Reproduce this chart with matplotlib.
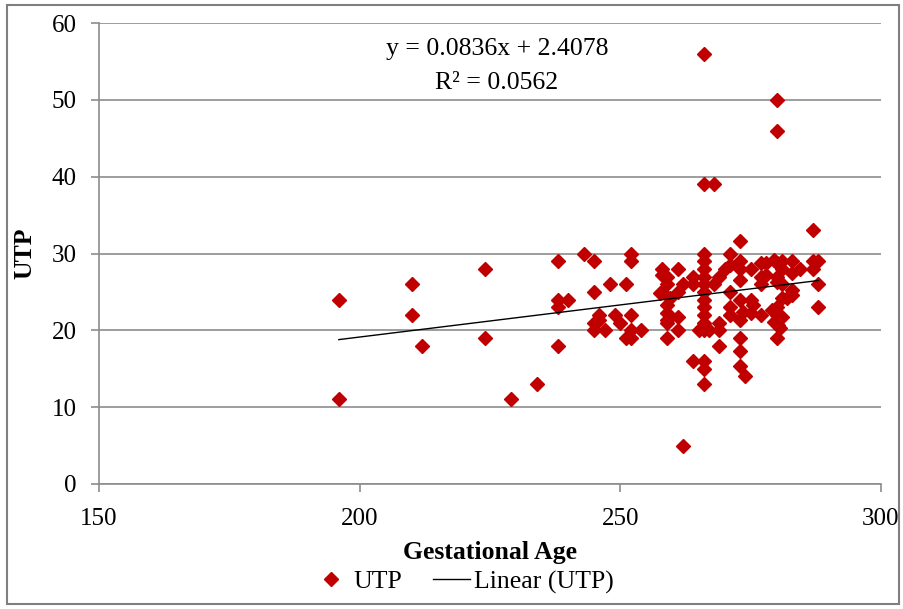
import matplotlib
matplotlib.use("Agg")
import matplotlib.pyplot as plt
from matplotlib.patches import Rectangle
from matplotlib.lines import Line2D

gest_age = [196, 196, 210, 210, 212, 224, 224, 229, 234,
            238, 238, 238, 238, 240, 243, 245, 245,
            245, 245, 246, 246, 247, 248, 249, 250, 251, 251, 252, 252, 252, 252, 252, 254,
            258, 258, 259, 258, 257.6, 259.5, 259, 259, 259, 259, 259, 259,
            261, 262, 261, 261, 261, 264, 264, 262,
            264, 266, 266, 266,
            266, 266, 266, 266, 266, 266, 266, 266, 266, 266, 266, 265, 267, 266, 268, 266,
            268, 269, 269, 269, 269, 270, 271, 271, 271, 271, 271,
            273, 273, 273, 273, 273, 273.6, 273, 273, 273, 273, 274,
            275, 275, 275.5, 275, 277,
            277, 278, 280, 277, 278, 277,
            279.4, 281, 283, 284.5, 283, 281, 280, 280, 281,
            283, 283, 282, 281, 280, 279,
            280, 281, 279.4, 280.3, 280.7, 280,
            280, 280,
            287, 287, 288, 287, 288, 288]
utp = [24, 11, 26, 22, 18, 28, 19, 11, 13,
       29, 24, 23, 18, 24, 30, 29, 25,
       20, 21, 22, 21.3, 20, 26, 22, 21, 26, 19, 30, 29, 22, 20, 19, 20,
       28, 27.2, 27, 25, 24.8, 24.2, 23.3, 22.2, 20.9, 19, 26, 21.3,
       28, 26, 25, 21.8, 20, 27, 26, 5,
       16, 16, 15, 13,
       30, 29, 28, 27, 26, 25, 24, 23, 22, 21, 20, 20, 20, 39, 39, 56,
       26, 27, 21, 20, 18, 28, 28.5, 30, 25, 23, 22,
       31.6, 29, 28, 26.6, 24, 22.4, 21.3, 19, 17.3, 15.3, 14,
       28, 24, 23.3, 22.2, 22,
       28.7, 28.7, 28.7, 27, 27.2, 26,
       29.2, 29, 29, 28, 27.4, 28, 27, 26.3, 26,
       25.2, 24.6, 24.2, 24.2, 23.1, 22.6,
       22, 21.8, 21.1, 20.7, 20.3, 19,
       50, 46,
       33, 29, 29, 28, 26, 23]

slope = 0.0836
intercept = 2.4078
r_squared = 0.0562

x_ticks = [150, 200, 250, 300]
y_ticks = [0, 10, 20, 30, 40, 50, 60]

plt.rcParams['font.family'] = ['Liberation Serif', 'DejaVu Serif']

fig = plt.figure(figsize=(9.04, 6.09), dpi=100)
ax = fig.add_axes([99/904, 1 - 484/609, (881 - 99)/904, (484 - 23)/609])

red = '#C00000'
ax.plot(gest_age, utp, linestyle='none', marker='D', markersize=6.8,
        color=red, markeredgecolor=red, zorder=3)

xmin, xmax = min(gest_age), max(gest_age)
ax.plot([xmin, xmax], [slope * xmin + intercept, slope * xmax + intercept],
        color='black', linewidth=1.0, zorder=4)

ax.set_xlim(150, 300)
ax.set_ylim(0, 60)
ax.set_xticks(x_ticks)
ax.set_yticks(y_ticks)
ax.yaxis.grid(True, color='#8c8c8c', linewidth=1.2)
ax.set_axisbelow(True)
for s in ['top', 'right']:
    ax.spines[s].set_visible(False)
for s in ['left', 'bottom']:
    ax.spines[s].set_color('#8c8c8c')
    ax.spines[s].set_linewidth(1.2)
ax.tick_params(axis='both', colors='#8c8c8c', labelcolor='black',
               labelsize=18, length=6, width=1.2, direction='out')
ax.tick_params(axis='x', pad=11)
ax.tick_params(axis='y', pad=10)

ax.set_xlabel('Gestational Age', fontsize=18.5, fontweight='bold', labelpad=8)
ax.set_ylabel('UTP', fontsize=18.5, fontweight='bold', labelpad=11)

ax.text((497 - 99) / 782, 1 - (49 - 23) / 461, 'y = 0.0836x + 2.4078', transform=ax.transAxes,
        ha='center', va='center', fontsize=18.5)
ax.text((497 - 99) / 782, 1 - (83 - 23) / 461, 'R² = 0.0562', transform=ax.transAxes,
        ha='center', va='center', fontsize=18.5)

handles = [Line2D([], [], linestyle='none', marker='D', markersize=6.8, color=red),
           Line2D([], [], color='black', linewidth=1.0)]
fig.legend(handles, ['UTP', 'Linear (UTP)'], loc='center', bbox_to_anchor=(463/904, 1 - 582/609),
           ncol=2, frameon=False, fontsize=18.5, handlelength=1.45, handletextpad=0.15,
           columnspacing=1.2)

fig.add_artist(Rectangle((7/904, 5/609), (899 - 7)/904, (604 - 5)/609, transform=fig.transFigure,
                         fill=False, edgecolor='#7f7f7f', linewidth=1.5))

fig.savefig('out.png', dpi=100)
